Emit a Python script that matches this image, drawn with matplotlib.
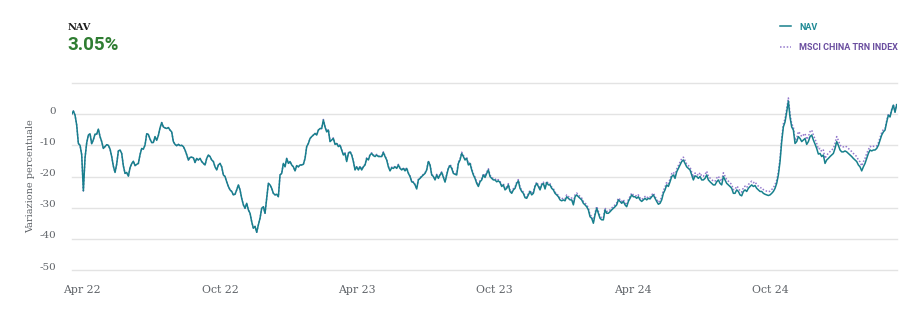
import matplotlib
matplotlib.use("Agg")
import matplotlib.pyplot as plt
import matplotlib.transforms as mtransforms
import pandas as pd

start_date = "2022-03-18"
end_date = "2025-03-18"

nav = [
    0.0, 1.0, -0.3, -3.5, -9.4, -10, -13, -24.6, -14, -9.2,
    -6.7, -6.3, -9.5, -8.2, -6.4, -6.4, -4.8, -7.2, -8.8, -11,
    -10.4, -9.8, -10, -11.2, -13.6, -16.7, -18.7, -16, -11.8, -11.5,
    -12.6, -16.6, -19, -18.7, -19.9, -17.2, -15.9, -15.1, -16.5, -16.1,
    -15.8, -13, -11, -11.2, -9.9, -6.3, -6.5, -8, -9.1, -9.1,
    -7.2, -8.4, -6.8, -4.4, -2.7, -4.1, -4.4, -4.6, -4.3, -5.1,
    -5.7, -8.8, -9.7, -10.1, -9.7, -10.1, -10, -10.4, -11.5, -13,
    -14.7, -13.9, -13.8, -14, -15.5,
    -14.2, -14.7, -14.2, -15.2, -15.8, -16.3, -14.2, -13.1, -13.6, -14.7,
    -15.2, -16.9, -17.9, -16.3, -15.8, -16.9, -19.5, -20, -21.7, -23.2,
    -24.3, -24.8, -25.9, -25.7, -24.3, -22.7, -24.3, -27, -29.1, -30.2,
    -28.6, -30.7, -31.8, -34.5, -36.6, -36, -37.9, -35.5, -33.4, -30.2,
    -29.7, -31.8, -27, -22.2, -22.7, -23.8, -25.4, -25.9, -25.7, -26.5,
    -19.5, -19, -15.8, -16.9, -14.2, -15.8, -15.2, -16.3, -16.9, -18.2,
    -16.5, -16.9, -16.3, -16.3, -16.1, -14.2, -10.4, -9.4, -7.8, -7.2,
    -6.7, -6.2, -6.7, -5.1, -4.6,
    -4.6, -1.9, -4.1, -5.7, -5.1, -8.8, -8.3, -7.8, -9.7, -9.4,
    -10.4, -10, -11.5, -13.1, -12.6, -15.2, -12.6, -12.1, -13.1, -15.2,
    -17.9, -16.9, -17.9, -16.9, -17.9, -16.9, -16.3, -14.2, -14.7, -13.1,
    -12.6, -13.3, -13.6, -13.1, -13.6, -13.6, -13.6, -12.3, -13.6, -14.7,
    -16.9, -18.2, -17.2, -17.4, -16.9, -17.4, -16.3, -17.4, -17.9, -17.4,
    -18.2, -17.4, -19, -20, -21.7, -21.9, -22.7, -24, -21.1, -20.6,
    -20, -19.5, -19, -17.9, -15.2, -16.3, -19.5, -20, -21.1, -19.5,
    -20.6, -19.5, -18.7, -20.3, -21.8,
    -19.5, -17.4, -16.5, -17.4, -19, -19.3, -19.5, -15.8, -14.7, -12.6,
    -13.6, -14.7, -14.2, -16.3, -15.8, -17.9, -19.5, -20.6, -22.2, -23.2,
    -21.7, -21.1, -19.5, -20.3, -19, -17.9, -20, -20.6, -21.1, -21.1,
    -21.7, -21.4, -21.9, -23.2, -22.7, -24.3, -23.8, -22.7, -24.8, -25.4,
    -24.3, -23.8, -22.2, -21.4, -23.8, -24.8, -25.4, -26.8, -27, -25.9,
    -24.8, -25.9, -25.4, -23.2, -22.2, -23.2, -24.3, -22.7, -22.2, -24,
    -21.9, -22.7, -22.7, -23.8, -24.3, -25.4, -25.9, -26.5, -27.5, -27.8,
    -27.5, -27.8, -26.5, -27, -27.5,
    -27.5, -29.1, -26.5, -25.9, -26.5, -27, -27.5, -28.6, -29.1, -29.7,
    -30.7, -32.9, -33.4, -35, -32.3, -30.2, -31.8, -33.4, -33.9, -33.9,
    -30.7, -31.8, -31.8, -31.3, -30.7, -30.2, -29.7, -29.1, -27.5, -28,
    -28.6, -28, -29.1, -29.7, -28, -27, -25.9, -26.5, -26.5, -27,
    -26.5, -27.5, -28, -27.5, -27, -27.5, -27, -27.2, -26.5, -25.9,
    -27, -28, -28.9, -28.6, -27.5, -25.4, -24.3, -22.7, -23.2, -21.7,
    -20, -19.5, -20.6, -18.5, -17.4, -16.3, -15.2, -14.7, -15.8, -16.9,
    -17.4, -17.9, -19.5, -21.1, -19.8,
    -20, -20.6, -20, -21.1, -21.1, -20.6, -19.5, -21.1, -21.7, -22.2,
    -22.7, -22.7, -21.7, -21.1, -22.2, -22.7, -20, -21.1, -22.2, -22.7,
    -23.2, -23.8, -25.4, -25.4, -24.3, -24.8, -25.9, -26.2, -24.8, -24.3,
    -24.8, -23.8, -23.2, -22.7, -23.2, -22.9, -23.8, -24.3, -24.8, -24.8,
    -25.4, -25.7, -25.9, -26.1, -25.9, -25.4, -24.8, -23.8, -22.2, -19.5,
    -15.2, -8.8, -4.1, -2.5, 0.7, 4.2, -1, -4.1, -5.1, -9.4,
    -8.8, -7.2, -7.8, -8.8, -8.3, -7.8, -9.7, -8.8, -7.2, -6.7,
    -8.3, -9.6, -11, -12.8, -12.6,
    -13.6, -13.1, -15.8, -14.7, -14.2, -13.6, -13.1, -12.6, -11, -8.8,
    -10, -11.5, -12.1, -12.1, -11.8, -12.1, -12.6, -13.1, -13.6, -14.2,
    -14.7, -15.2, -16.3, -16.9, -18.2, -16.9, -15.8, -14.2, -12.6, -11.5,
    -11.8, -11.5, -11.5, -11, -10, -8.3, -6.7, -5.7, -5.1, -2.5,
    -0.3, -0.9, 1.3, 2.9, 0.6, 3.05,
]

msci = [
    0.0, 1.0, -0.3, -3.5, -9.4, -10, -13, -24.6, -14, -9.2,
    -6.7, -6.3, -9.5, -8.2, -6.4, -6.4, -4.8, -7.2, -8.8, -11,
    -10.4, -9.8, -10, -11.2, -13.6, -16.7, -18.7, -16, -11.8, -11.5,
    -12.6, -16.6, -19, -18.7, -19.9, -17.2, -15.9, -15.1, -16.5, -16.1,
    -15.8, -13, -11, -11.2, -9.9, -6.3, -6.5, -8, -9.1, -9.1,
    -7.2, -8.4, -6.8, -4.4, -2.7, -4.1, -4.4, -4.6, -4.3, -5.1,
    -5.7, -8.8, -9.7, -10.1, -9.7, -10.1, -10, -10.4, -11.5, -13,
    -14.7, -13.9, -13.8, -14, -15.5,
    -14.2, -14.7, -14.2, -15.2, -15.8, -16.3, -14.2, -13.1, -13.6, -14.7,
    -15.2, -16.9, -17.9, -16.3, -15.8, -16.9, -19.5, -20, -21.7, -23.2,
    -24.3, -24.8, -25.9, -25.7, -24.3, -22.7, -24.3, -27, -29.1, -30.2,
    -28.6, -30.7, -31.8, -34.5, -36.6, -36, -37.9, -35.5, -33.4, -30.2,
    -29.7, -31.8, -27, -22.2, -22.7, -23.8, -25.4, -25.9, -25.7, -26.5,
    -19.5, -19, -15.8, -16.9, -14.2, -15.8, -15.2, -16.3, -16.9, -18.2,
    -16.5, -16.9, -16.3, -16.3, -16.1, -14.2, -10.4, -9.4, -7.8, -7.2,
    -6.7, -6.2, -6.7, -5.1, -4.6,
    -4.6, -1.7, -3.9, -5.5, -4.9, -8.6, -8.1, -7.6, -9.5, -9.2,
    -10.2, -9.8, -11.3, -12.9, -12.4, -15, -12.4, -11.9, -12.9, -15,
    -17.7, -16.7, -17.7, -16.7, -17.7, -16.7, -16.1, -14, -14.5, -12.9,
    -12.4, -13.1, -13.4, -12.9, -13.4, -13.4, -13.4, -12.1, -13.4, -14.5,
    -16.7, -18, -17, -17.2, -16.7, -17.2, -16.1, -17.2, -17.7, -17.2,
    -18, -17.2, -18.8, -19.8, -21.5, -21.7, -22.5, -23.8, -20.9, -20.4,
    -19.8, -19.3, -18.8, -17.7, -15, -16.1, -19.3, -19.8, -20.9, -19.3,
    -20.4, -19.3, -18.5, -20.1, -21.6,
    -19.3, -17.2, -16.1, -17, -18.6, -18.9, -19.1, -15.4, -14.3, -12.2,
    -13.2, -14.3, -13.8, -15.9, -15.4, -17.5, -19.1, -20.2, -21.8, -22.8,
    -21.3, -20.7, -19.1, -19.9, -18.6, -17.5, -19.6, -20.2, -20.7, -20.7,
    -21.3, -21, -21.5, -22.8, -22.3, -23.9, -23.4, -22.3, -24.4, -25,
    -23.9, -23.4, -21.8, -21, -23.4, -24.4, -25, -26.4, -26.6, -25.5,
    -24.4, -25.5, -25, -22.8, -21.8, -22.8, -23.9, -22.3, -21.8, -23.6,
    -21.5, -22.3, -22.3, -23.4, -23.9, -25, -25.5, -26.1, -26.9, -27.2,
    -26.9, -27.2, -25.9, -26.4, -26.9,
    -26.9, -28.5, -25.9, -25.3, -25.9, -26.4, -26.9, -28, -28.5, -29.1,
    -30.1, -32.3, -32.8, -34.4, -31.7, -29.6, -31.2, -32.8, -33.3, -33.3,
    -30.1, -31.2, -31.2, -30.7, -30.1, -29.6, -29.1, -28.5, -26.9, -27.4,
    -28, -27.4, -28.5, -29.1, -27.4, -26.4, -25.3, -25.9, -25.9, -26.4,
    -25.9, -26.9, -27.4, -26.9, -26.4, -26.9, -26.4, -26.6, -25.9, -25.3,
    -26.4, -27.4, -28.3, -27.7, -26.6, -24.5, -23.4, -21.8, -22.3, -20.8,
    -19.1, -18.6, -19.7, -17.6, -16.5, -15.4, -14.3, -13.8, -14.9, -16,
    -16.5, -17, -18.6, -20.2, -18.9,
    -19.1, -19.7, -18.8, -19.9, -19.9, -19.4, -18.3, -19.9, -20.5, -21,
    -21.5, -21.5, -20.5, -19.9, -21, -21.5, -18.8, -19.9, -21, -21.5,
    -22, -22.6, -24.2, -24.2, -23.1, -23.6, -24.7, -25, -23.6, -23.1,
    -23.6, -22.6, -22, -21.5, -22, -21.7, -22.6, -23.1, -23.6, -23.6,
    -24.2, -24.5, -24.7, -24.9, -24.7, -24.2, -23.6, -22.6, -21.2, -18.5,
    -14.2, -7.8, -3.1, -1.5, 1.7, 5.2, 0, -3.1, -4.1, -8.4,
    -7.8, -5.6, -6.2, -7.2, -6.7, -6.2, -8.1, -7.2, -5.6, -5.1,
    -6.7, -8, -9.4, -11.2, -11,
    -12, -11.5, -14.2, -13.1, -12.6, -12, -11.5, -11, -9.4, -7.2,
    -8.4, -9.9, -10.5, -10.5, -10.2, -10.5, -11, -11.5, -12, -12.6,
    -13.1, -13.6, -14.7, -15.3, -16.6, -15.3, -14.2, -12.6, -11.4, -10.3,
    -10.6, -10.3, -10.3, -10.2, -9.2, -7.5, -5.9, -4.9, -4.7, -2.1,
    0.1, -0.5, 1.5, 3.1, 0.8, 3.25,
]

y_ticks = [-50, -40, -30, -20, -10, 0, 10]
y_tick_labels = ["-50", "-40", "-30", "-20", "-10", "0", ""]
x_tick_dates = ["2022-04-01", "2022-10-01", "2023-04-01", "2023-10-01", "2024-04-01", "2024-10-01"]
x_tick_labels = ["Apr 22", "Oct 22", "Apr 23", "Oct 23", "Apr 24", "Oct 24"]

nav_label = "NAV"
msci_label = "MSCI CHINA TRN INDEX"
headline_value = "3.05%"

dates_nav = pd.date_range(start_date, end_date, periods=len(nav))
dates_msci = pd.date_range(start_date, end_date, periods=len(msci))

W, H = 924, 313
fig = plt.figure(figsize=(W / 100, H / 100), dpi=100)
ax = fig.add_axes([71.7 / W, 1 - 270 / H, 825 / W, (270 - 83) / H])

teal = "#17808c"
purple = "#9378cc"
grey = "#5f6368"

l_msci, = ax.plot(dates_msci, msci, color=purple, lw=1.1, ls=(0, (1, 1.2)), label=msci_label, zorder=2)
l_nav, = ax.plot(dates_nav, nav, color=teal, lw=1.1, label=nav_label, zorder=3)

ax.set_xlim(dates_nav[0], dates_nav[-1])
ax.set_ylim(-50, 10)
ax.set_yticks(y_ticks)
ax.set_yticklabels(y_tick_labels)
ax.set_xticks(pd.to_datetime(x_tick_dates))
ax.set_xticklabels(x_tick_labels)

for s in ax.spines.values():
    s.set_visible(False)
ax.grid(axis="y", color="#e3e3e3", lw=1)
for gl in ax.get_ygridlines():
    gl.set_clip_on(False)
ax.set_axisbelow(True)
ax.tick_params(axis="both", length=0)
ax.tick_params(axis="y", pad=11, labelsize=7.5, labelcolor=grey)
ax.tick_params(axis="x", pad=11, labelsize=7.8, labelcolor=grey)
for lab in ax.get_yticklabels() + ax.get_xticklabels():
    lab.set_family("DejaVu Serif")
offset = mtransforms.ScaledTranslation(0, 4 / 100, fig.dpi_scale_trans)
for lab in ax.get_yticklabels():
    lab.set_transform(lab.get_transform() + offset)

fig.text(31 / W, 1 - 176 / H, "Variazione percentuale", rotation=90, ha="center", va="center",
         family="DejaVu Serif", fontsize=7, color=grey)

fig.text(68 / W, 1 - 27 / H, nav_label, ha="left", va="center", family="DejaVu Serif",
         fontweight="bold", fontsize=7, color="#1c1c1c")
fig.text(67 / W, 1 - 45 / H, headline_value, ha="left", va="center", family="Roboto",
         fontweight="bold", fontsize=13.5, color="#2f7d32")

leg = fig.legend(handles=[l_nav, l_msci], loc="upper left", bbox_to_anchor=(776 / W, 1 - 19 / H),
                 frameon=False, handlelength=1.3, handletextpad=0.9, labelspacing=1.3,
                 prop={"family": "Roboto", "weight": "bold", "size": 6.5}, borderaxespad=0)
for txt, col in zip(leg.get_texts(), ["#1f8a95", "#6b4fa0"]):
    txt.set_color(col)

fig.savefig("out.png", dpi=100)
